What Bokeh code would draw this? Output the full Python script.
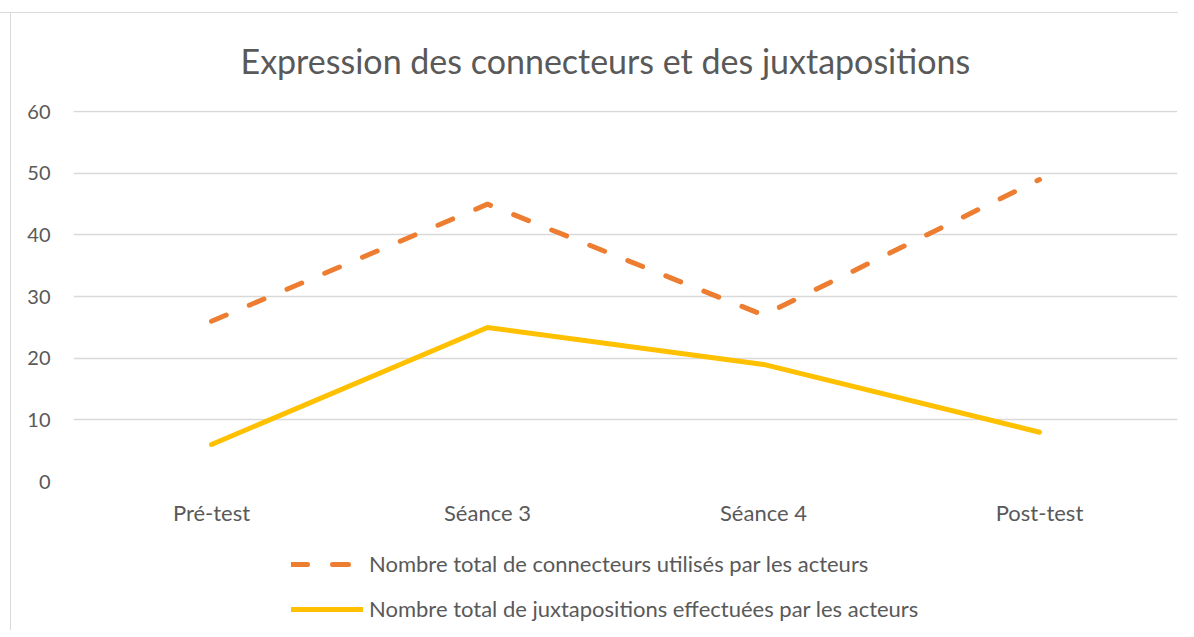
from bokeh.plotting import figure
from bokeh.layouts import column
from bokeh.models import ColumnDataSource, Legend, LegendItem, FactorRange, Range1d, SingleIntervalTicker
from bokeh.embed import file_html
from bokeh.resources import INLINE

categories = ["Pré-test", "Séance 3", "Séance 4", "Post-test"]
connecteurs = [26, 45, 27, 49]
juxtapositions = [6, 25, 19, 8]
title_text = "Expression des connecteurs et des juxtapositions"
label_conn = "Nombre total de connecteurs utilisés par les acteurs"
label_juxt = "Nombre total de juxtapositions effectuées par les acteurs"

FONT = "Lato"
TXT = "#595959"
ORANGE = "#ED7D31"
YELLOW = "#FFC000"

src = ColumnDataSource(dict(cat=categories, conn=connecteurs, juxt=juxtapositions))

p = figure(width=1178, height=530, x_range=FactorRange(*categories, range_padding=0),
           y_range=Range1d(0, 60.2), output_backend="svg", toolbar_location=None,
           min_border_left=73, min_border_right=1, min_border_top=110, min_border_bottom=49,
           title=title_text)
p.styles = {"box-shadow": "inset 0 12px 0 #ffffff, inset 0 13px 0 #d9d9d9, inset 10px 0 0 #ffffff, inset 11px 0 0 #d9d9d9"}
p.border_fill_color = None
p.background_fill_color = "white"
p.outline_line_color = None

p.title.text_font = FONT
p.title.text_font_size = "34px"
p.title.text_font_style = "normal"
p.title.text_color = TXT
p.title.align = "left"
p.title.offset = 167
p.title.vertical_align = "top"
p.title.standoff = 55

p.yaxis.ticker = SingleIntervalTicker(interval=10)
for ax in (p.xaxis, p.yaxis):
    ax.axis_line_color = None
    ax.major_tick_line_color = None
    ax.minor_tick_line_color = None
    ax.major_label_text_font = FONT
    ax.major_label_text_color = TXT
p.yaxis.major_label_text_font_size = "20px"
p.xaxis.major_label_text_font_size = "22px"
p.yaxis.major_label_standoff = 17
p.xaxis.major_label_standoff = 11

p.xgrid.grid_line_color = None
p.ygrid.grid_line_color = "#d9d9d9"
p.ygrid.grid_line_width = 1.5

line_conn = dict(line_color=ORANGE, line_width=5, line_dash="16 25", line_cap="round", line_join="round")
line_juxt = dict(line_color=YELLOW, line_width=5, line_cap="round", line_join="round")

p.line("cat", "conn", source=src, **line_conn)
p.line("cat", "juxt", source=src, **line_juxt)

# legend strip (same series, drawn outside its visible range so only the legend shows)
q = figure(width=1178, height=100, x_range=FactorRange(*categories, range_padding=0),
           y_range=Range1d(1000, 1001), output_backend="svg", toolbar_location=None,
           min_border_left=0, min_border_right=0, min_border_top=0, min_border_bottom=0)
q.styles = {"box-shadow": "inset 10px 0 0 #ffffff, inset 11px 0 0 #d9d9d9"}
q.border_fill_color = None
q.background_fill_color = "white"
q.outline_line_color = None
q.axis.visible = False
q.grid.visible = False
r1 = q.line("cat", "conn", source=src, **line_conn)
r2 = q.line("cat", "juxt", source=src, **line_juxt)

legend = Legend(items=[LegendItem(label=label_conn, renderers=[r1]),
                       LegendItem(label=label_juxt, renderers=[r2])],
                location=(218, 8), orientation="vertical",
                glyph_width=72, glyph_height=20, label_height=20, spacing=18,
                label_standoff=6, padding=0, margin=0,
                border_line_color=None, background_fill_alpha=0,
                label_text_font=FONT, label_text_font_size="22px", label_text_color=TXT)
q.add_layout(legend, "center")

open("out.html", "w").write(file_html(column(p, q, spacing=0), INLINE))
